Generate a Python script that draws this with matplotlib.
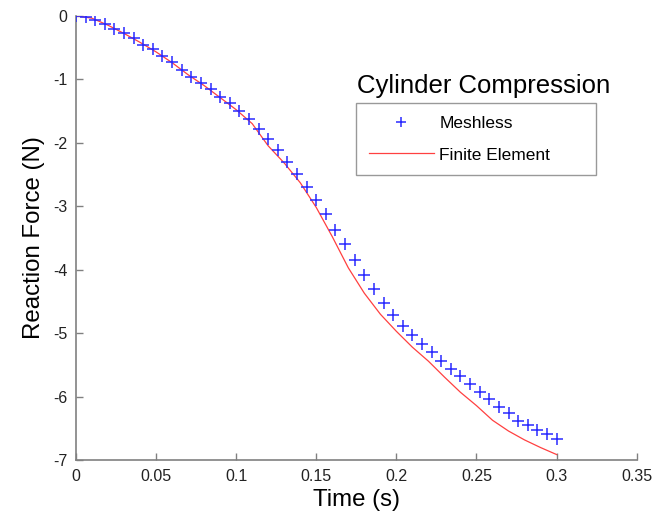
import numpy as np
import matplotlib
matplotlib.use("Agg")
import matplotlib.pyplot as plt

# Meshless samples (t = i*0.006)
meshless_t = [round(i * 0.006, 3) for i in range(51)]
meshless_f = [0, -0.02, -0.07, -0.13, -0.21, -0.27, -0.35, -0.46, -0.53, -0.64,
              -0.73, -0.85, -0.96, -1.06, -1.15, -1.28, -1.38, -1.50, -1.63, -1.79,
              -1.94, -2.11, -2.30, -2.50, -2.69, -2.90, -3.13, -3.37, -3.60, -3.85,
              -4.08, -4.31, -4.52, -4.71, -4.89, -5.03, -5.17, -5.30, -5.43, -5.56,
              -5.67, -5.80, -5.92, -6.04, -6.16, -6.26, -6.38, -6.45, -6.53, -6.59,
              -6.67]

# Finite element curve
fe_t = [0, 0.01, 0.02, 0.03, 0.04, 0.05, 0.06, 0.07, 0.08, 0.09, 0.10, 0.11, 0.12,
        0.13, 0.14, 0.15, 0.16, 0.17, 0.18, 0.19, 0.20, 0.21, 0.22, 0.23, 0.24,
        0.25, 0.26, 0.27, 0.28, 0.29, 0.30]
fe_f = [0, -0.04, -0.15, -0.28, -0.42, -0.57, -0.74, -0.93, -1.10, -1.29, -1.48,
        -1.70, -2.05, -2.32, -2.63, -3.02, -3.48, -3.97, -4.37, -4.70, -4.97,
        -5.22, -5.44, -5.69, -5.93, -6.14, -6.37, -6.54, -6.68, -6.80, -6.91]

xticks = [0, 0.05, 0.1, 0.15, 0.2, 0.25, 0.3, 0.35]
xticklabels = ["0", "0.05", "0.1", "0.15", "0.2", "0.25", "0.3", "0.35"]
yticks = [0, -1, -2, -3, -4, -5, -6, -7]

plt.rcParams['font.family'] = ['Liberation Sans', 'DejaVu Sans']

fig = plt.figure(figsize=(6.55, 5.23), dpi=100)
ax = fig.add_axes([0.116, 0.12, 0.856, 0.85])

ax.plot(fe_t, fe_f, color='#ff4040', lw=0.9, label='Finite Element', zorder=2)
ax.plot(meshless_t, meshless_f, linestyle='none', marker='+', markersize=8,
        markeredgewidth=1.1, color='#2a2aff', label='Meshless', zorder=3)

ax.set_xlim(0, 0.35)
ax.set_ylim(-7, 0)
ax.set_xticks(xticks)
ax.set_xticklabels(xticklabels)
ax.set_yticks(yticks)
ax.set_yticklabels([str(v) for v in yticks])

for side in ['top', 'right']:
    ax.spines[side].set_visible(False)
for side in ['left', 'bottom']:
    ax.spines[side].set_color('#808080')
    ax.spines[side].set_linewidth(1.2)
ax.tick_params(direction='in', length=5, width=1, color='#808080',
               labelsize=11.5, labelcolor='#222222', pad=6)

ax.set_xlabel('Time (s)', fontsize=17.3, labelpad=4)
ax.set_ylabel('Reaction Force (N)', fontsize=17.3, labelpad=6)

ax.text(0.502, 0.827, 'Cylinder Compression', transform=ax.transAxes,
        fontsize=18.5, ha='left', va='baseline')

handles, labels = ax.get_legend_handles_labels()
leg = ax.legend(handles[::-1], labels[::-1], loc='upper left',
                bbox_to_anchor=(0.5, 0.641, 0.427, 0.162), mode='expand',
                fontsize=12.5, frameon=True,
                fancybox=False, edgecolor='#808080', handlelength=3.75,
                borderpad=0.72, labelspacing=0.95, handletextpad=0.3,
                borderaxespad=0, markerscale=0.85)
leg.get_frame().set_linewidth(1.0)

fig.savefig('out.png', dpi=100)
